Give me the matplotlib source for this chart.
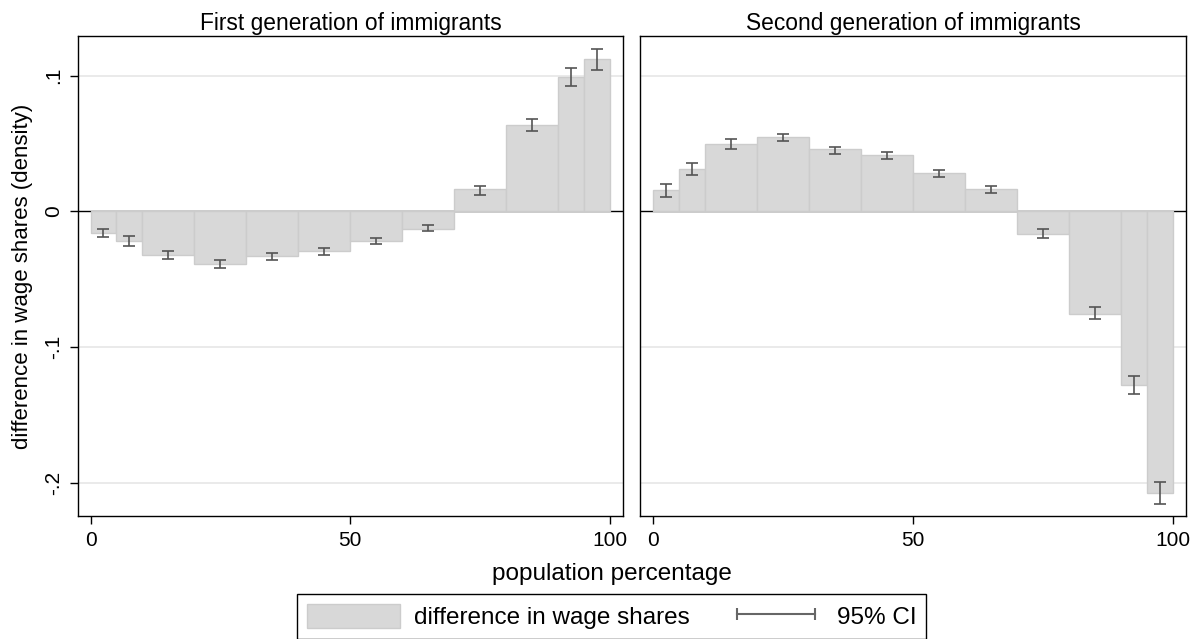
import matplotlib.pyplot as plt
import numpy as np
from matplotlib.lines import Line2D
from matplotlib.patches import Patch

plt.rcParams['font.family'] = ['Liberation Sans', 'DejaVu Sans']

# bin edges of population percentage
edges = [0, 5, 10, 20, 30, 40, 50, 60, 70, 80, 90, 95, 100]

# first generation
first_diff = [-0.0159, -0.0216, -0.0321, -0.0387, -0.0326, -0.0294,
              -0.0216, -0.0130, 0.0162, 0.0637, 0.0990, 0.1123]
first_lo = [-0.0191, -0.0252, -0.0348, -0.0414, -0.0355, -0.0319,
            -0.0243, -0.0147, 0.0123, 0.0591, 0.0926, 0.1042]
first_hi = [-0.0127, -0.0184, -0.0294, -0.0360, -0.0304, -0.0272,
            -0.0194, -0.0098, 0.0191, 0.0679, 0.1054, 0.1199]

# second generation
second_diff = [0.0157, 0.0316, 0.0500, 0.0551, 0.0458, 0.0417,
               0.0284, 0.0169, -0.0167, -0.0755, -0.1279, -0.2071]
second_lo = [0.0110, 0.0267, 0.0458, 0.0520, 0.0422, 0.0390,
             0.0255, 0.0137, -0.0199, -0.0794, -0.1348, -0.2154]
second_hi = [0.0199, 0.0355, 0.0534, 0.0574, 0.0475, 0.0439,
             0.0306, 0.0191, -0.0132, -0.0703, -0.1213, -0.1993]

titles = ["First generation of immigrants", "Second generation of immigrants"]

bar_color = '#d8d8d8'
bar_edge = '#cccccc'
ci_color = '#555555'

fig = plt.figure(figsize=(11.95, 6.39), dpi=100)
ax1 = fig.add_axes([0.0653, 0.1925, 0.456, 0.7515])
ax2 = fig.add_axes([0.5356, 0.1925, 0.4569, 0.7515], sharey=ax1)

left = np.array(edges[:-1], dtype=float)
widths = np.diff(edges)
mids = left + widths / 2

panels = [(ax1, first_diff, first_lo, first_hi),
          (ax2, second_diff, second_lo, second_hi)]

for i, (ax, diff, lo, hi) in enumerate(panels):
    diff = np.array(diff)
    lo = np.array(lo)
    hi = np.array(hi)
    ax.axhline(0, color='black', linewidth=1.0, zorder=0.5)
    for yv in (0.1, -0.1, -0.2):
        ax.axhline(yv, color='#e6e6e6', linewidth=1.2, zorder=0.3)
    ax.bar(left, diff, width=widths, align='edge', color=bar_color,
           edgecolor=bar_edge, linewidth=1.0, zorder=1)
    ax.errorbar(mids, (lo + hi) / 2, yerr=(hi - lo) / 2, fmt='none',
                ecolor=ci_color, elinewidth=1.2, capsize=4, capthick=1.2, zorder=2)
    ax.set_xlim(-2.4, 102.5)
    ax.set_ylim(-0.2243, 0.1294)
    ax.set_xticks([0, 50, 100])
    ax.set_xticklabels(['0', '50', '100'], fontsize=15)
    ax.set_title(titles[i], fontsize=16.4, pad=4)
    for s in ax.spines.values():
        s.set_linewidth(1.0)
    ax.tick_params(axis='x', length=6, width=1, pad=5)

ax1.set_yticks([0.1, 0, -0.1, -0.2])
ax1.set_yticklabels(['.1', '0', '-.1', '-.2'], fontsize=15, rotation=90, va='center')
ax1.tick_params(axis='y', length=6, width=1, pad=5)
ax1.set_ylabel("difference in wage shares (density)", fontsize=16, labelpad=8)
ax2.tick_params(axis='y', left=False, labelleft=False)

fig.text(0.512, 0.1017, "population percentage", ha='center', va='center', fontsize=17.5)

handles = [Patch(facecolor=bar_color, edgecolor=bar_edge),
           Line2D([], [], color='#666666', marker='|', markersize=9,
                  markeredgewidth=1.5, linewidth=1.5)]
fig.legend(handles, ["difference in wage shares", "95% CI"], loc='center',
           bbox_to_anchor=(0.512, 0.035), ncol=2, fontsize=17.5, frameon=True,
           fancybox=False, edgecolor='black', framealpha=1, numpoints=2,
           handlelength=3.8, handleheight=1.1, columnspacing=1.65,
           borderpad=0.4, handletextpad=0.6)

fig.savefig('out.png', dpi=100)
